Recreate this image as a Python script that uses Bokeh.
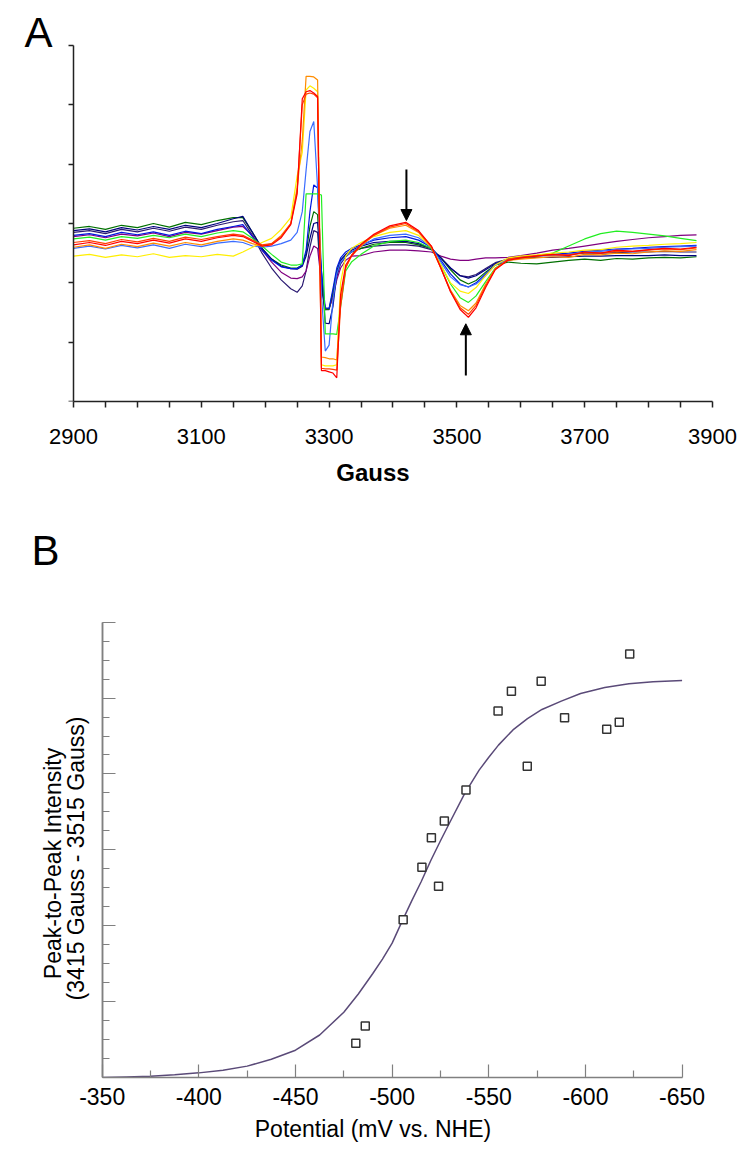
import math
from bokeh.plotting import figure
from bokeh.models import Range1d, FixedTicker, LinearAxis, Arrow, NormalHead
from bokeh.layouts import column
from bokeh.embed import file_html
from bokeh.resources import INLINE
from bokeh.core.properties import value

FONT = "Liberation Sans"

# ---------------- Panel A data (EPR spectra) ----------------
gauss = [2900, 2925, 2950, 2975, 3000, 3025, 3050, 3075, 3100, 3125, 3150, 3165, 3180, 3195,
         3210, 3225, 3240, 3250, 3258, 3264, 3270, 3276, 3282, 3288, 3294, 3300, 3306, 3312,
         3318, 3326, 3335, 3350, 3370, 3395, 3420, 3440, 3460, 3475, 3490, 3505, 3518, 3530,
         3545, 3560, 3580, 3600, 3625, 3650, 3675, 3700, 3725, 3750, 3775, 3800, 3825, 3850, 3875]

spec_indigo = [2.85, 2.88, 2.83, 2.90, 2.86, 2.92, 2.87, 2.94, 2.90, 2.97, 3.03, 3.05, 2.80, 2.50,
               2.25, 2.05, 1.90, 1.84, 1.95, 2.20, 2.60, 2.88, 2.85, 1.90, 1.55, 1.55, 1.80, 2.10,
               2.32, 2.44, 2.52, 2.58, 2.62, 2.64, 2.64, 2.62, 2.56, 2.42, 2.25, 2.12, 2.10, 2.14,
               2.24, 2.34, 2.40, 2.43, 2.46, 2.47, 2.48, 2.50, 2.50, 2.51, 2.52, 2.52, 2.53, 2.52, 2.52]
spec_purple = [2.78, 2.81, 2.76, 2.82, 2.79, 2.84, 2.78, 2.85, 2.82, 2.88, 2.94, 2.95, 2.80, 2.55,
               2.35, 2.18, 2.08, 2.07, 2.10, 2.20, 2.45, 2.62, 2.58, 2.00, 1.56, 1.57, 1.75, 2.05,
               2.25, 2.38, 2.45, 2.46, 2.52, 2.55, 2.55, 2.54, 2.52, 2.45, 2.40, 2.38, 2.38, 2.40,
               2.42, 2.42, 2.43, 2.46, 2.50, 2.55, 2.58, 2.62, 2.66, 2.70, 2.73, 2.76, 2.78, 2.80, 2.81]
spec_darkgreen = [2.92, 2.95, 2.90, 2.97, 2.93, 3.00, 2.94, 3.02, 2.98, 3.05, 3.10, 3.10, 2.85, 2.58,
                  2.40, 2.30, 2.25, 2.25, 2.30, 2.50, 2.95, 3.20, 3.15, 2.00, 1.55, 1.56, 1.85, 2.20,
                  2.38, 2.46, 2.52, 2.58, 2.65, 2.68, 2.68, 2.64, 2.58, 2.42, 2.22, 2.05, 1.98, 2.04,
                  2.18, 2.30, 2.35, 2.33, 2.32, 2.35, 2.38, 2.40, 2.38, 2.41, 2.40, 2.42, 2.43, 2.42, 2.44]
spec_navy = [2.88, 2.91, 2.86, 2.93, 2.89, 2.95, 2.90, 2.97, 2.93, 3.00, 3.08, 3.12, 2.85, 2.58,
             2.40, 2.28, 2.24, 2.23, 2.28, 2.45, 2.75, 3.00, 3.02, 2.20, 1.32, 1.31, 1.60, 2.15,
             2.38, 2.48, 2.55, 2.62, 2.68, 2.70, 2.70, 2.66, 2.58, 2.42, 2.25, 2.12, 2.08, 2.12,
             2.22, 2.32, 2.40, 2.42, 2.43, 2.43, 2.44, 2.45, 2.45, 2.46, 2.46, 2.46, 2.47, 2.46, 2.46]
spec_blue = [2.80, 2.83, 2.78, 2.85, 2.81, 2.86, 2.80, 2.87, 2.83, 2.90, 2.95, 2.98, 2.78, 2.55,
             2.38, 2.27, 2.24, 2.24, 2.30, 2.55, 3.20, 3.65, 3.60, 2.20, 1.58, 1.57, 1.90, 2.25,
             2.42, 2.52, 2.58, 2.64, 2.72, 2.76, 2.78, 2.72, 2.60, 2.38, 2.15, 1.98, 1.93, 2.00,
             2.15, 2.30, 2.40, 2.43, 2.46, 2.48, 2.50, 2.53, 2.55, 2.57, 2.58, 2.60, 2.61, 2.62, 2.63]
spec_lightblue = [2.58, 2.62, 2.57, 2.63, 2.59, 2.64, 2.58, 2.65, 2.61, 2.67, 2.70, 2.68, 2.62, 2.60,
                  2.62, 2.66, 2.72, 2.85, 3.20, 3.90, 4.55, 4.72, 3.60, 1.80, 0.85, 0.95, 1.70, 2.15,
                  2.35, 2.45, 2.52, 2.62, 2.74, 2.80, 2.82, 2.76, 2.60, 2.35, 2.10, 1.97, 1.93, 1.98,
                  2.12, 2.30, 2.40, 2.42, 2.45, 2.47, 2.48, 2.52, 2.53, 2.56, 2.57, 2.58, 2.60, 2.61, 2.62]
spec_green = [2.74, 2.77, 2.72, 2.78, 2.75, 2.80, 2.76, 2.82, 2.78, 2.84, 2.88, 2.86, 2.75, 2.62,
              2.48, 2.35, 2.30, 2.30, 2.32, 3.50, 3.50, 3.50, 3.50, 3.48, 1.14, 1.14, 1.14, 1.13,
              1.60, 2.20, 2.35, 2.48, 2.62, 2.70, 2.72, 2.68, 2.58, 2.30, 1.98, 1.75, 1.67, 1.78,
              2.02, 2.25, 2.38, 2.42, 2.45, 2.50, 2.62, 2.74, 2.83, 2.87, 2.85, 2.82, 2.79, 2.75, 2.71]
spec_yellow = [2.45, 2.48, 2.43, 2.47, 2.44, 2.49, 2.43, 2.46, 2.44, 2.48, 2.45, 2.52, 2.60, 2.68,
               2.75, 2.90, 3.10, 3.80, 4.20, 5.25, 5.32, 5.28, 5.22, 0.62, 0.60, 0.60, 0.60, 0.62,
               2.00, 2.45, 2.58, 2.68, 2.78, 2.85, 2.88, 2.80, 2.60, 2.30, 2.00, 1.86, 1.82, 1.92,
               2.12, 2.30, 2.42, 2.45, 2.47, 2.50, 2.52, 2.55, 2.56, 2.60, 2.62, 2.63, 2.65, 2.66, 2.68]
spec_orange = [2.60, 2.64, 2.58, 2.65, 2.61, 2.67, 2.62, 2.68, 2.64, 2.70, 2.74, 2.72, 2.66, 2.62,
               2.66, 2.80, 3.00, 3.60, 4.40, 5.48, 5.48, 5.47, 5.42, 0.75, 0.74, 0.72, 0.72, 0.70,
               1.70, 2.25, 2.45, 2.62, 2.80, 2.92, 2.97, 2.85, 2.60, 2.25, 1.88, 1.62, 1.53, 1.66,
               1.98, 2.24, 2.38, 2.40, 2.42, 2.44, 2.43, 2.48, 2.47, 2.50, 2.49, 2.52, 2.54, 2.53, 2.56]
spec_orangered = [2.68, 2.71, 2.66, 2.73, 2.69, 2.75, 2.70, 2.77, 2.73, 2.78, 2.82, 2.80, 2.72, 2.64,
                  2.66, 2.78, 3.00, 3.55, 5.00, 5.18, 5.20, 5.18, 5.12, 0.56, 0.55, 0.55, 0.54, 0.53,
                  1.60, 2.25, 2.47, 2.64, 2.80, 2.94, 3.00, 2.86, 2.62, 2.24, 1.86, 1.58, 1.47, 1.62,
                  1.95, 2.23, 2.40, 2.43, 2.46, 2.47, 2.47, 2.51, 2.50, 2.53, 2.53, 2.55, 2.57, 2.56, 2.59]
spec_red = [2.64, 2.68, 2.63, 2.70, 2.66, 2.72, 2.67, 2.74, 2.70, 2.76, 2.80, 2.78, 2.70, 2.62,
            2.64, 2.76, 2.98, 3.50, 5.10, 5.22, 5.24, 5.20, 5.14, 0.52, 0.52, 0.50, 0.48, 0.40,
            1.80, 2.30, 2.45, 2.65, 2.82, 2.96, 3.02, 2.88, 2.62, 2.25, 1.85, 1.55, 1.42, 1.58,
            1.92, 2.22, 2.38, 2.42, 2.45, 2.48, 2.46, 2.52, 2.50, 2.55, 2.53, 2.56, 2.58, 2.57, 2.60]

spectra = [
    (spec_indigo, "#2b1a72"),
    (spec_purple, "#800080"),
    (spec_darkgreen, "#007000"),
    (spec_navy, "#000080"),
    (spec_blue, "#0018e0"),
    (spec_lightblue, "#3a6cff"),
    (spec_green, "#22ee22"),
    (spec_yellow, "#ffee00"),
    (spec_orange, "#ff8c00"),
    (spec_orangered, "#ff4000"),
    (spec_red, "#ff0000"),
]

gauss_major = [2900, 3100, 3300, 3500, 3700, 3900]
gauss_minor = [g for g in range(2900, 3901, 50) if g not in gauss_major]
gauss_tick_labels = ["2900", "3100", "3300", "3500", "3700", "3900"]
intensity_ticks_A = [0, 1, 2, 3, 4, 5, 6]

arrow_gauss = [3421, 3514]
arrow_from = [3.91, 0.44]
arrow_to = [3.05, 1.31]

# ---------------- Panel B data (titration) ----------------
potential = [-481.2, -486.1, -505.7, -515.4, -520.3, -524.0, -527.0, -538.2, -554.8, -561.7,
             -569.9, -577.1, -589.2, -611.0, -617.5, -622.9]
intensity = [0.45, 0.68, 2.08, 2.77, 3.16, 2.52, 3.38, 3.79, 4.83, 5.09,
             4.10, 5.22, 4.74, 4.59, 4.68, 5.58]

fit_potential = [-350, -362.5, -375, -387.5, -400, -412.5, -425, -437.5, -450, -462.5, -475,
                 -482.5, -490, -495, -500, -505, -510, -515, -520, -525, -530, -537.5, -545,
                 -550, -555, -562.5, -570, -577.5, -587.5, -597.5, -610, -622.5, -635, -650]
fit_intensity = [0.0, 0.008, 0.017, 0.035, 0.061, 0.095, 0.15, 0.24, 0.36, 0.56, 0.86,
                 1.10, 1.37, 1.56, 1.77, 2.05, 2.32, 2.58, 2.86, 3.12, 3.37, 3.74, 4.05,
                 4.22, 4.38, 4.58, 4.73, 4.85, 4.96, 5.06, 5.14, 5.19, 5.215, 5.23]

pot_ticks = [-350, -400, -450, -500, -550, -600, -650]
pot_tick_labels = ["-350", "-400", "-450", "-500", "-550", "-600", "-650"]
pot_minor = [-375, -425, -475, -525, -575, -625]
intensity_major_B = [0, 1, 2, 3, 4, 5, 6]
intensity_minor_B = [i / 4 for i in range(25) if i % 4]

# ================= Panel A =================
pA = figure(width=750, height=500, x_range=Range1d(2809.2, 3928.2), y_range=Range1d(0, 6.59),
            output_backend="svg", toolbar_location=None,
            min_border_left=15, min_border_right=20, min_border_top=10, min_border_bottom=99)
pA.outline_line_color = None
pA.grid.grid_line_color = None

for ys, col in spectra:
    pA.line(gauss, ys, line_color=col, line_width=1.2)

for gx, y0, y1 in zip(arrow_gauss, arrow_from, arrow_to):
    pA.add_layout(Arrow(end=NormalHead(size=11, fill_color="black", line_color="black", line_width=1),
                        x_start=gx, y_start=y0, x_end=gx, y_end=y1,
                        line_color="black", line_width=2))

xa = pA.xaxis[0]
xa.bounds = (2900, 3900)
xa.ticker = FixedTicker(ticks=gauss_major, minor_ticks=gauss_minor)
xa.major_label_overrides = {t: s for t, s in zip(gauss_major, gauss_tick_labels)}
xa.axis_label = "Gauss"
xa.axis_label_text_font = FONT
xa.axis_label_text_font_style = "bold"
xa.axis_label_text_font_size = "24px"
xa.axis_label_text_color = "black"
xa.axis_label_standoff = 12
xa.major_label_text_font = FONT
xa.major_label_text_font_size = "22px"
xa.major_label_text_color = "black"
xa.major_label_standoff = 21
xa.major_tick_out = 6
xa.major_tick_in = 0
xa.minor_tick_out = 6
xa.minor_tick_in = 0

ya = pA.yaxis[0]
ya.fixed_location = 2900
ya.bounds = (0, 6)
ya.ticker = FixedTicker(ticks=[], minor_ticks=intensity_ticks_A)
ya.minor_tick_out = 5
ya.minor_tick_in = 0

for ax in (xa, ya):
    ax.axis_line_color = "#222222"
    ax.axis_line_width = 1.5
    ax.major_tick_line_color = "#222222"
    ax.major_tick_line_width = 1.5
    ax.minor_tick_line_color = "#222222"
    ax.minor_tick_line_width = 1.5

pA.text(x=[2823.3], y=[6.22], text=["A"], text_font=value(FONT), text_font_size="42px",
        text_align="left", text_baseline="alphabetic", text_color="black")

# ================= Panel B =================
pB = figure(width=750, height=666, x_range=Range1d(-305.15, -675.04), y_range=Range1d(0, 7.274),
            output_backend="svg", toolbar_location=None,
            min_border_left=15, min_border_right=20, min_border_top=25, min_border_bottom=89)
pB.outline_line_color = None
pB.grid.grid_line_color = None

pB.line(fit_potential, fit_intensity, line_color="#5a4a78", line_width=1.5)
pB.scatter(potential, intensity, marker="square", size=8, fill_color="white",
           line_color="#333333", line_width=1.5)

xb = pB.xaxis[0]
xb.bounds = (-650, -350)
xb.ticker = FixedTicker(ticks=pot_ticks, minor_ticks=pot_minor)
xb.major_label_overrides = {t: s for t, s in zip(pot_ticks, pot_tick_labels)}
xb.major_label_text_font = FONT
xb.major_label_text_font_size = "23px"
xb.major_label_text_color = "black"
xb.major_label_standoff = 10
xb.axis_label = "Potential (mV vs. NHE)"
xb.axis_label_text_font = FONT
xb.axis_label_text_font_style = "normal"
xb.axis_label_text_font_size = "23px"
xb.axis_label_text_color = "black"
xb.axis_label_standoff = 8
xb.major_tick_in = 13
xb.major_tick_out = 0
xb.minor_tick_in = 7
xb.minor_tick_out = 0

# y axis: short quarter ticks on the main axis, long unit ticks on a second axis at the same place
yb = pB.yaxis[0]
yb.fixed_location = -350
yb.bounds = (0, 6)
yb.ticker = FixedTicker(ticks=[], minor_ticks=intensity_minor_B)
yb.minor_tick_in = 7
yb.minor_tick_out = 0

yb2 = LinearAxis(fixed_location=-350, bounds=(0, 6),
                 ticker=FixedTicker(ticks=[], minor_ticks=intensity_major_B))
yb2.minor_tick_in = 13
yb2.minor_tick_out = 0
pB.add_layout(yb2, "left")

for ax in (xb, yb, yb2):
    ax.axis_line_color = "#808080"
    ax.axis_line_width = 1.5
    ax.major_tick_line_color = "#808080"
    ax.minor_tick_line_color = "#808080"
    ax.major_tick_line_width = 1.2
    ax.minor_tick_line_width = 1.2

pB.text(x=[-324.8, -336.7], y=[2.82, 2.886],
        text=["Peak-to-Peak Intensity", "(3415 Gauss - 3515 Gauss)"],
        angle=math.pi / 2, text_font=value(FONT), text_font_size="23px",
        text_align="center", text_baseline="middle", text_color="black")
pB.text(x=[-313.4], y=[6.945], text=["B"], text_font=value(FONT), text_font_size="42px",
        text_align="left", text_baseline="alphabetic", text_color="black")

layout = column(pA, pB)
open("out.html", "w").write(file_html(layout, INLINE))
